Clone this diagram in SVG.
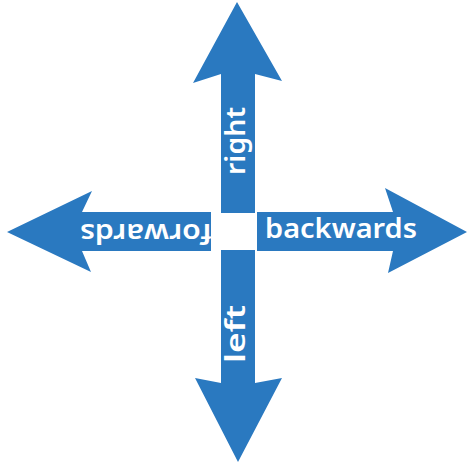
<svg xmlns="http://www.w3.org/2000/svg" width="468" height="468" viewBox="0 0 468 468">
<style>
.arrow{fill:#2a79c0}
.lbl{fill:#ffffff;font-family:"Noto Sans","DejaVu Sans",sans-serif;font-size:27px;font-weight:600}
</style>
<rect width="468" height="468" fill="#ffffff"/>
<g id="up">
<polygon class="arrow" points="237,2 282,81 255,74 255,213 221,213 221,74 193,83"/>
<text class="lbl" transform="translate(245,175) rotate(-90)" textLength="68" lengthAdjust="spacingAndGlyphs">right</text>
</g>
<g id="down">
<polygon class="arrow" points="221,249 255,249 255,383 282,378 238,462 195,378 221,383"/>
<text class="lbl" transform="translate(245,363) rotate(-90)" textLength="58" lengthAdjust="spacingAndGlyphs">left</text>
</g>
<g id="left">
<polygon class="arrow" points="7,232 92,191 82,212 211,212 211,251 82,251 91,272"/>
<text class="lbl" transform="translate(212,224) rotate(180)" textLength="132" lengthAdjust="spacingAndGlyphs">forwards</text>
</g>
<g id="right">
<polygon class="arrow" points="467,232 385,188 393,212 257,212 257,251 393,251 388,273"/>
<text class="lbl" x="265" y="238" textLength="152" lengthAdjust="spacingAndGlyphs">backwards</text>
</g>
<g id="center">
<rect x="211" y="213" width="46" height="37" fill="#ffffff"/>
</g>
<g id="connectors"/>
</svg>
